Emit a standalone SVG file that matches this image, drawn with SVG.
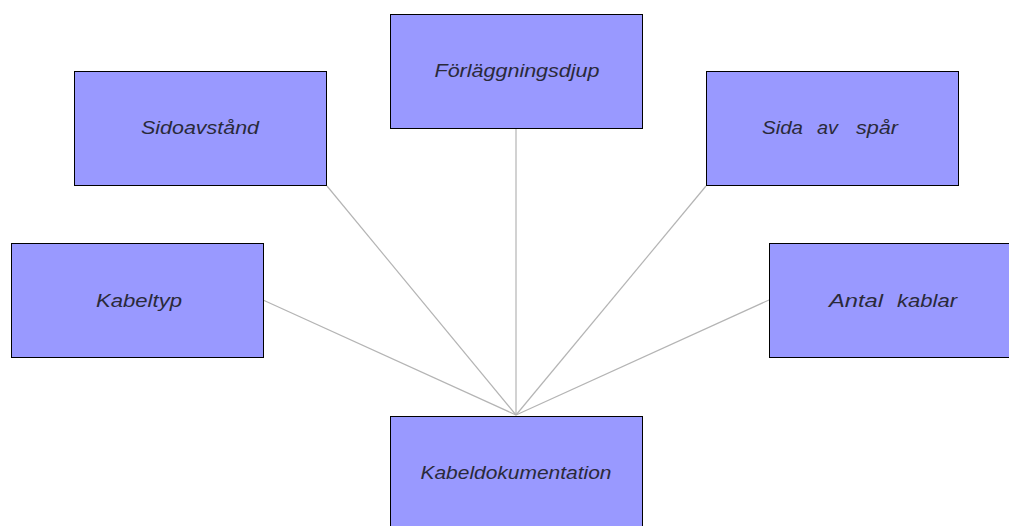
<svg xmlns="http://www.w3.org/2000/svg" width="1009" height="526" viewBox="0 0 1009 526">
<style>
.box{fill:#9999ff;stroke:#000;stroke-width:1}
.lbl{font-family:"Liberation Sans",Arial,sans-serif;font-style:italic;font-size:19px;fill:#2a2a3a;text-anchor:middle}
.w{text-anchor:start}
.conn{stroke:#b4b4b4;stroke-width:1.2;fill:none}
</style>
<rect width="1009" height="526" fill="#fff"/>
<g id="connectors">
<line class="conn" x1="516" y1="415" x2="516" y2="128"/>
<line class="conn" x1="516" y1="415" x2="327" y2="186"/>
<line class="conn" x1="516" y1="415" x2="706" y2="186"/>
<line class="conn" x1="516" y1="415" x2="263" y2="300"/>
<line class="conn" x1="516" y1="415" x2="769" y2="300"/>
</g>
<g id="n-forlaggningsdjup"><rect class="box" x="390.5" y="14.5" width="252" height="114"/><text class="lbl" x="517" y="77" textLength="165" lengthAdjust="spacingAndGlyphs">Förläggningsdjup</text></g>
<g id="n-sidoavstand"><rect class="box" x="74.5" y="71.5" width="252" height="114"/><text class="lbl" x="200" y="134" textLength="118" lengthAdjust="spacingAndGlyphs">Sidoavstånd</text></g>
<g id="n-sida-av-spar"><rect class="box" x="706.5" y="71.5" width="252" height="114"/><text class="lbl w" y="134"><tspan x="762" textLength="41" lengthAdjust="spacingAndGlyphs">Sida</tspan><tspan x="817" textLength="21" lengthAdjust="spacingAndGlyphs">av</tspan><tspan x="856" textLength="42" lengthAdjust="spacingAndGlyphs">spår</tspan></text></g>
<g id="n-kabeltyp"><rect class="box" x="11.5" y="243.5" width="252" height="114"/><text class="lbl" x="139" y="307" textLength="86" lengthAdjust="spacingAndGlyphs">Kabeltyp</text></g>
<g id="n-antal-kablar"><rect class="box" x="769.5" y="243.5" width="252" height="114"/><text class="lbl w" y="307"><tspan x="829" textLength="54" lengthAdjust="spacingAndGlyphs">Antal</tspan><tspan x="897" textLength="60" lengthAdjust="spacingAndGlyphs">kablar</tspan></text></g>
<g id="n-kabeldokumentation"><rect class="box" x="390.5" y="416.5" width="252" height="114"/><text class="lbl" x="516" y="479" textLength="191" lengthAdjust="spacingAndGlyphs">Kabeldokumentation</text></g>
</svg>
